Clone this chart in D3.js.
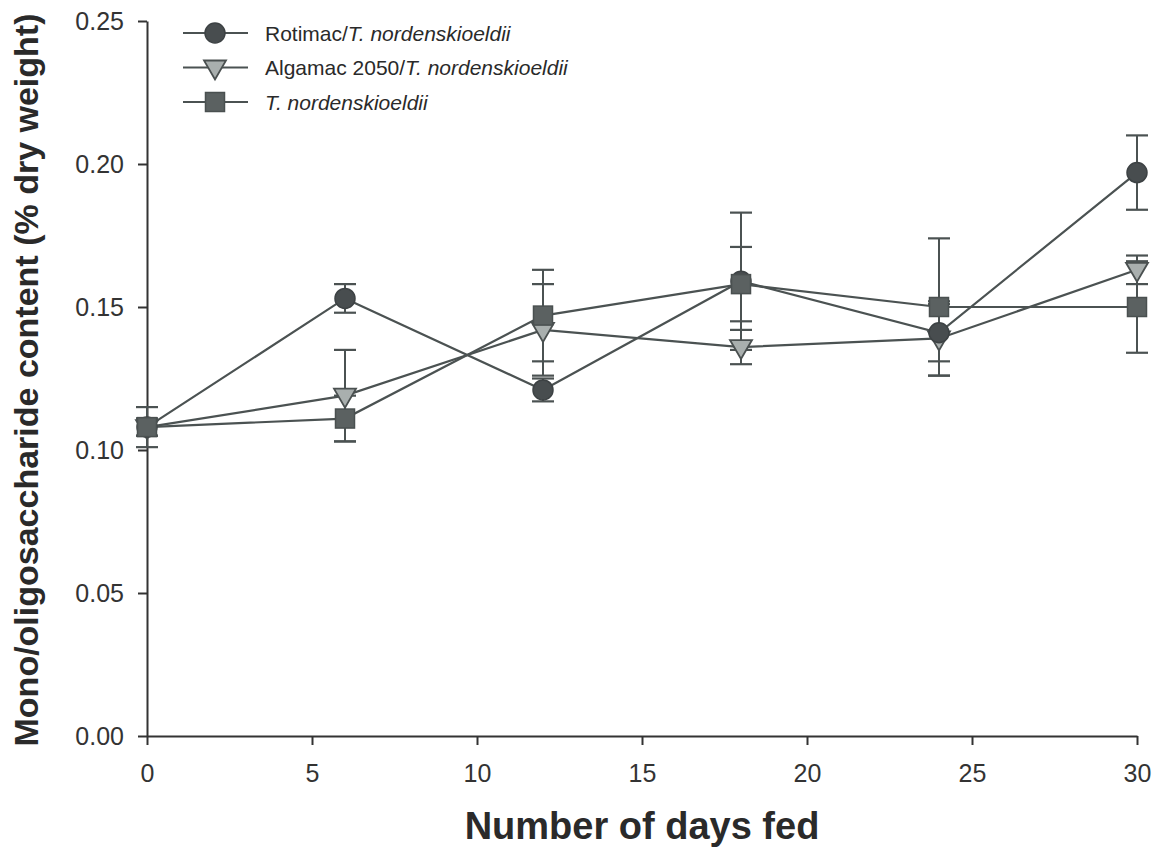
<!DOCTYPE html>
<html><head><meta charset="utf-8">
<script src="https://cdn.jsdelivr.net/npm/d3@7"></script>
<style>
body{margin:0;background:#fff;}
svg{display:block;font-family:"Liberation Sans",Arial,sans-serif;}
</style></head>
<body><svg id="c" width="1164" height="856"></svg>
<script>
const days = [0, 6, 12, 18, 24, 30];
const rotimac = [0.108, 0.153, 0.121, 0.159, 0.141, 0.197];
const rotimacErr = [0.003, 0.005, 0.004, 0.024, 0.010, 0.013];
const algamac = [0.108, 0.119, 0.142, 0.136, 0.139, 0.163];
const algamacErr = [0.003, 0.016, 0.016, 0.006, 0.013, 0.005];
const tnord = [0.108, 0.111, 0.147, 0.158, 0.150, 0.150];
const tnordErr = [0.007, 0.008, 0.016, 0.013, 0.024, 0.016];
const xTicks = [0, 5, 10, 15, 20, 25, 30];
const yTicks = [0, 0.05, 0.10, 0.15, 0.20, 0.25];

const svg = d3.select("#c");
const x = d3.scaleLinear().domain([0, 30]).range([147, 1137]);
const y = d3.scaleLinear().domain([0, 0.25]).range([736, 21]);
const axisColor = "#333";
const lineColor = "#4b5252";

const xAxis = svg.append("g").attr("transform", "translate(0,736)")
  .call(d3.axisBottom(x).tickValues(xTicks).tickFormat(d3.format("d")).tickSize(9).tickSizeOuter(0).tickPadding(19));
const yAxis = svg.append("g").attr("transform", "translate(147,0)")
  .call(d3.axisLeft(y).tickValues(yTicks).tickFormat(d3.format(".2f")).tickSize(9).tickSizeOuter(0).tickPadding(14));
[xAxis, yAxis].forEach(g => {
  g.selectAll("path,line").attr("stroke", axisColor).attr("stroke-width", 2);
  g.selectAll("text").attr("fill", "#333").style("font-size", "25px").style("font-family", "'Liberation Sans',Arial,sans-serif");
});

svg.append("text").attr("x", 642).attr("y", 839).attr("text-anchor", "middle")
  .style("font-size", "38px").style("font-weight", "bold").attr("fill", "#2a2a2a").text("Number of days fed");
svg.append("text").attr("transform", "translate(38,380) rotate(-90)").attr("text-anchor", "middle")
  .style("font-size", "34px").style("font-weight", "bold").attr("fill", "#2a2a2a").text("Mono/oligosaccharide content (% dry weight)");

const series = [
  {name: "alg", vals: algamac, err: algamacErr, shape: "tri", fill: "#a9afae"},
  {name: "rot", vals: rotimac, err: rotimacErr, shape: "circ", fill: "#484d4f"},
  {name: "tn", vals: tnord, err: tnordErr, shape: "sq", fill: "#5b6161"}
];

const line = d3.line().x(d => x(d[0])).y(d => y(d[1]));
series.forEach(s => {
  svg.append("path").datum(days.map((d, i) => [d, s.vals[i]]))
    .attr("d", line).attr("fill", "none").attr("stroke", lineColor).attr("stroke-width", 2.2);
});

function drawMarker(g, shape, cx, cy, fill) {
  if (shape === "circ") {
    g.append("circle").attr("cx", cx).attr("cy", cy).attr("r", 10).attr("fill", fill).attr("stroke", "#3d4244").attr("stroke-width", 1.5);
  } else if (shape === "sq") {
    g.append("rect").attr("x", cx - 9.5).attr("y", cy - 9.5).attr("width", 19).attr("height", 19).attr("fill", fill).attr("stroke", "#4a5050").attr("stroke-width", 1.5);
  } else {
    g.append("path").attr("d", `M${cx - 11},${cy - 7}L${cx + 11},${cy - 7}L${cx},${cy + 12}Z`)
      .attr("fill", fill).attr("stroke", "#4a5050").attr("stroke-width", 1.8);
  }
}

series.forEach(s => {
  const g = svg.append("g");
  days.forEach((d, i) => {
    const cx = x(d), hi = y(s.vals[i] + s.err[i]), lo = y(s.vals[i] - s.err[i]);
    g.append("line").attr("x1", cx).attr("x2", cx).attr("y1", hi).attr("y2", lo).attr("stroke", lineColor).attr("stroke-width", 2);
    [hi, lo].forEach(yy => g.append("line").attr("x1", cx - 11).attr("x2", cx + 11).attr("y1", yy).attr("y2", yy).attr("stroke", lineColor).attr("stroke-width", 2.2));
  });
});
series.forEach(s => {
  const g = svg.append("g");
  days.forEach((d, i) => drawMarker(g, s.shape, x(d), y(s.vals[i]), s.fill));
});

const legendItems = [
  {shape: "circ", fill: "#484d4f", plain: "Rotimac/", ital: "T. nordenskioeldii"},
  {shape: "tri", fill: "#a9afae", plain: "Algamac 2050/", ital: "T. nordenskioeldii"},
  {shape: "sq", fill: "#5b6161", plain: "", ital: "T. nordenskioeldii"}
];
legendItems.forEach((it, i) => {
  const ly = 33 + i * 34.5;
  const g = svg.append("g");
  g.append("line").attr("x1", 183).attr("x2", 248).attr("y1", ly).attr("y2", ly).attr("stroke", lineColor).attr("stroke-width", 2.2);
  drawMarker(g, it.shape, 215, ly, it.fill);
  const t = g.append("text").attr("x", 265).attr("y", ly + 7.5).style("font-size", "21px").attr("fill", "#2a2a2a");
  if (it.plain) t.append("tspan").text(it.plain);
  t.append("tspan").style("font-style", "italic").text(it.ital);
});
</script></body></html>
